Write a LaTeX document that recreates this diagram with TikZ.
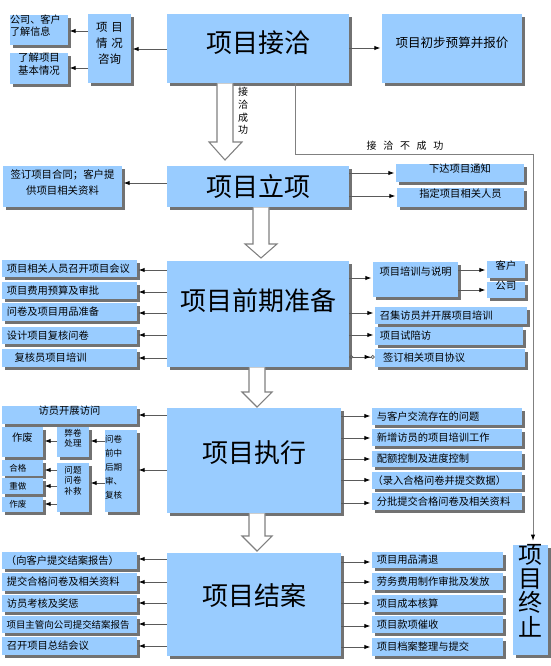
\documentclass[tikz,border=0pt]{standalone}
\usepackage{fontspec}
\setmainfont{Noto Sans CJK SC}
\usetikzlibrary{fit,shadows,arrows.meta,calc}
\definecolor{boxblue}{HTML}{99CCFF}
\definecolor{shadowgray}{HTML}{727272}
\definecolor{linegray}{HTML}{5A5A5A}
\tikzset{
 box/.style={fill=boxblue,draw=none,inner sep=0pt,drop shadow={shadow xshift=2.1pt,shadow yshift=-2.1pt,fill=shadowgray,opacity=1}},
 title/.style={font=\fontsize{19.5}{22}\selectfont,inner sep=0pt},
 lbl/.style={font=\fontsize{7.7}{9.5}\selectfont,inner sep=0pt},
 tinyf/.style={font=\fontsize{6.4}{8}\selectfont,inner sep=0pt},
 lt/.style={label={[lbl,anchor=west,xshift=3.6pt]west:#1}},
 arr/.style={draw=linegray,line width=0.6pt,shorten >=1pt,-{Latex[length=4.5pt,width=3.2pt,color=black]}},
 hollow/.style={draw=gray,line width=0.8pt,fill=white},
}
\begin{document}
\begin{tikzpicture}[x=0.75pt,y=-0.75pt]
\fill[white] (0,0) rectangle (550,666);
\useasboundingbox (0,0) rectangle (550,666);

% ---------- stage 1 ----------
\node[box,fit={(167,14)(349,83)},label={[title,yshift=4pt]center:项目接洽}] (jq) {};
\node[box,fit={(88,14)(131,83)},align=center,font=\fontsize{8.6}{12}\selectfont] (zx) {项 目\\情 况\\咨询};
\node[box,fit={(10,15)(68,45)},align=left,font=\fontsize{7.6}{9.4}\selectfont] (kh) {公司、客户\\了解信息};
\node[box,fit={(10,53)(68,84)},align=center,font=\fontsize{7.8}{9.4}\selectfont] (lj) {了解项目\\基本情况};
\node[box,fit={(382,14)(522,83)},font=\fontsize{9.4}{11}\selectfont] (ys) {项目初步预算并报价};

\draw[arr] (jq.west |- 0,49) -- (zx.east |- 0,49);
\draw[arr] (zx.west |- 0,31) -- (kh.east |- 0,31);
\draw[arr] (zx.west |- 0,68) -- (lj.east |- 0,68);
\draw[arr] (jq.east |- 0,48) -- (ys.west |- 0,48);

% ---------- stage 2 ----------
\node[box,fit={(167,166)(349,207)},label={[title]center:项目立项}] (lx) {};
\node[box,fit={(3,166)(122,207)},align=center,font=\fontsize{7.8}{12}\selectfont] (qd) {签订项目合同；客户提\\供项目相关资料};
\node[box,lbl,fit={(396,164)(524,182)}] (xd) {下达项目通知};
\node[box,lbl,fit={(397,188)(524,207)}] (zd) {指定项目相关人员};

\draw[arr] (lx.west |- 0,183) -- (qd.east |- 0,183);
\draw[arr] (lx.east |- 0,173) -- (xd.west |- 0,173);
\draw[arr] (lx.east |- 0,196) -- (zd.west |- 0,196);

% ---------- stage 3 ----------
\node[box,fit={(167,261)(349,367)},label={[title,yshift=10pt]center:项目前期准备}] (qq) {};
\node[box,fit={(2,260)(137,277)},lt={项目相关人员召开项目会议}] (a1) {};
\node[box,fit={(2,282)(137,299)},lt={项目费用预算及审批}] (a2) {};
\node[box,fit={(2,303)(137,321)},lt={问卷及项目用品准备}] (a3) {};
\node[box,fit={(2,327)(137,344)},lt={设计项目复核问卷}] (a4) {};
\node[box,fit={(2,349)(137,367)},label={[lbl,anchor=west,xshift=9.5pt]west:复核员项目培训}] (a5) {};

\node[box,fit={(373,262)(458,297)},label={[lbl,anchor=north west,xshift=5pt,yshift=-3.5pt]north west:项目培训与说明}] (px) {};
\node[box,lbl,fit={(487,261)(525,278)}] (kh2) {客户};
\node[box,lbl,fit={(487,282)(525,298)}] (gs) {公司};
\node[box,fit={(375,307)(527,324)},lt={召集访员并开展项目培训}] (r2) {};
\node[box,fit={(375,327)(523,345)},lt={项目试陪访}] (r3) {};
\node[box,fit={(375,349)(525,367)},label={[lbl,anchor=west,xshift=6pt]west:签订相关项目协议}] (r4) {};

\foreach \n/\y in {a1/270,a2/292,a3/313,a4/335,a5/358}
  \draw[arr] (qq.west |- 0,\y) -- (\n.east |- 0,\y);
\draw[arr] (qq.east |- 0,278) -- (px.west |- 0,278);
\draw[arr] (px.east |- 0,270) -- (kh2.west |- 0,270);
\draw[arr] (px.east |- 0,290) -- (gs.west |- 0,290);
\draw[arr] (qq.east |- 0,313) -- (r2.west |- 0,313);
\draw[arr] (qq.east |- 0,335) -- (r3.west |- 0,335);
\draw[draw=linegray,line width=0.6pt,{Circle[open,length=3pt,width=3pt]}-{Latex[length=4.5pt,width=3.2pt,color=black]Circle[open,length=3pt,width=3pt]}] (qq.east |- 0,357) -- (r4.west |- 0,357);

% ---------- stage 4 ----------
\node[box,fit={(167,408)(341,513)},label={[title,yshift=6pt]center:项目执行}] (zhx) {};
\node[box,lbl,fit={(2,406)(137,424)}] (fy) {访员开展访问};
\node[box,fit={(105,430)(137,512)},align=left,font=\fontsize{6.4}{10.5}\selectfont] (sh) {问卷\\前中\\后期\\审、\\复核};
\node[box,fit={(57,427)(89,457)},align=center,tinyf] (bj) {弊卷\\处理};
\node[box,fit={(57,463)(89,512)},label={[tinyf,align=center,anchor=north,yshift=-2.4pt]north:问题\\问卷\\补救}] (wt) {};
\node[box,lbl,fit={(2,427)(43,457)}] (zf1) {作废};
\node[box,fit={(2,460)(43,476)},label={[tinyf,anchor=west,xshift=5.5pt]west:合格}] (hg) {};
\node[box,fit={(2,478)(43,494)},label={[tinyf,anchor=west,xshift=5.5pt]west:重做}] (cz) {};
\node[box,fit={(2,497)(43,512)},label={[tinyf,anchor=west,xshift=5.5pt]west:作废}] (zf2) {};

\node[box,fit={(372,408)(522,425)},lt={与客户交流存在的问题}] (e1) {};
\node[box,fit={(372,429)(522,446)},lt={新增访员的项目培训工作}] (e2) {};
\node[box,fit={(372,451)(522,467)},lt={配额控制及进度控制}] (e3) {};
\node[box,fit={(372,472)(522,489)},label={[lbl,anchor=west,xshift=0.5pt]west:（录入合格问卷并提交数据）}] (e4) {};
\node[box,fit={(372,493)(522,510)},lt={分批提交合格问卷及相关资料}] (e5) {};

\draw[arr] (zhx.west |- 0,415) -- (fy.east |- 0,415);
\draw[arr] (zhx.west |- 0,470) -- (sh.east |- 0,470);
\draw[arr] (sh.west |- 0,441) -- (bj.east |- 0,441);
\draw[arr] (sh.west |- 0,483) -- (wt.east |- 0,483);
\draw[arr] (bj.west |- 0,441) -- (zf1.east |- 0,441);
\draw[arr] (wt.west |- 0,470) -- (hg.east |- 0,470);
\draw[arr] (wt.west |- 0,486) -- (cz.east |- 0,486);
\draw[arr] (wt.west |- 0,504) -- (zf2.east |- 0,504);
\foreach \n/\y in {e1/416,e2/438,e3/459,e4/480,e5/503}
  \draw[arr] (zhx.east |- 0,\y) -- (\n.west |- 0,\y);

% ---------- stage 5 ----------
\node[box,fit={(167,553)(341,656)},label={[title,yshift=7pt]center:项目结案}] (ja) {};
\node[box,fit={(2,552)(137,569)},label={[lbl,anchor=west,xshift=3pt]west:（向客户提交结案报告）}] (f1) {};
\node[box,fit={(2,573)(137,591)},lt={提交合格问卷及相关资料}] (f2) {};
\node[box,fit={(2,595)(137,612)},lt={访员考核及奖惩}] (f3) {};
\node[box,fit={(2,616)(137,633)},label={[lbl,font=\fontsize{7.1}{9}\selectfont,anchor=west,xshift=3.4pt]west:项目主管向公司提交结案报告}] (f4) {};
\node[box,fit={(2,637)(137,655)},lt={召开项目总结会议}] (f5) {};

\node[box,fit={(372,552)(503,568)},lt={项目用品清退}] (g1) {};
\node[box,fit={(372,573)(503,590)},lt={劳务费用制作审批及发放}] (g2) {};
\node[box,fit={(372,595)(503,612)},lt={项目成本核算}] (g3) {};
\node[box,fit={(372,616)(503,633)},lt={项目款项催收}] (g4) {};
\node[box,fit={(372,638)(503,656)},lt={项目档案整理与提交}] (g5) {};

\foreach \n/\y in {f1/559,f2/582,f3/603,f4/624,f5/646}
  \draw[arr] (ja.west |- 0,\y) -- (\n.east |- 0,\y);
\foreach \n/\y in {g1/562,g2/582,g3/603,g4/626,g5/647}
  \draw[arr] (ja.east |- 0,\y) -- (\n.west |- 0,\y);

% ---------- termination ----------
\node[box,fit={(513,545)(548,655)},align=center,font=\fontsize{18}{18.2}\selectfont] (zz) {项\\目\\终\\止};

% ---------- hollow arrows ----------
\draw[hollow] (jq.south -| 217,0) -- (217,142) -- (209,142) -- (225,160) -- (242,142) -- (233,142) -- (jq.south -| 233,0);
\draw[hollow] (lx.south -| 253,0) -- (253,244) -- (245,244) -- (261,258) -- (277,244) -- (269,244) -- (lx.south -| 269,0);
\draw[hollow] (qq.south -| 249,0) -- (249,392) -- (242,392) -- (257,407) -- (272,392) -- (265,392) -- (qq.south -| 265,0);
\draw[hollow] (zhx.south -| 249,0) -- (249,536) -- (242,536) -- (257,551) -- (272,536) -- (265,536) -- (zhx.south -| 265,0);

\node[align=center,font=\fontsize{7.5}{9.6}\selectfont,inner sep=0pt] (cg) at (243,111) {接\\洽\\成\\功};

% ---------- failure path ----------
\draw[draw=gray,line width=0.6pt,shorten >=3pt,-{Latex[length=4.5pt,width=3.2pt,color=black]}] (jq.south -| 295,0) -- (295,154) -- (533,154) -- (zz.north -| 533,0);
\node[font=\fontsize{7.5}{9}\selectfont,inner sep=0pt] (bcg) at (405,146) {接\hspace{5pt}洽\hspace{5pt}不\hspace{5pt}成\hspace{5pt}功};
\end{tikzpicture}
\end{document}
